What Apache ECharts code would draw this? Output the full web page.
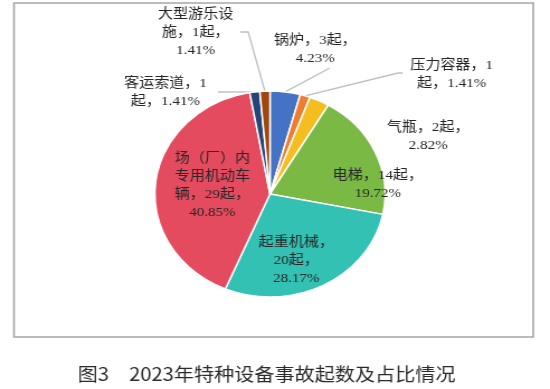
<!DOCTYPE html>
<html>
<head>
<meta charset="utf-8">
<script src="https://cdn.jsdelivr.net/npm/echarts@6/dist/echarts.min.js"></script>
<style>
html,body{margin:0;padding:0;background:#fff;overflow:hidden;}
#main{width:492px;height:389px;transform:scaleX(1.1179);transform-origin:0 0;}
</style>
</head>
<body>
<div id="main"></div>
<script>
const categories = ['锅炉', '压力容器', '气瓶', '电梯', '起重机械', '场（厂）内专用机动车辆', '客运索道', '大型游乐设施'];
const counts = [3, 1, 2, 14, 20, 29, 1, 1];
const percents = ['4.23%', '1.41%', '2.82%', '19.72%', '28.17%', '40.85%', '1.41%', '1.41%'];
const labelTemplates = [
  '{n}，{c}起，\n{p}',
  '{n}，{c}\n起，{p}',
  '{n}，{c}起，\n{p}',
  '{n}，{c}起，\n{p}',
  '{n}，\n{c}起，\n{p}',
  '场（厂）内\n专用机动车\n辆，{c}起，\n{p}',
  '{n}，{c}\n起，{p}',
  '大型游乐设\n施，{c}起，\n{p}'
];
const captionText = '图3　2023年特种设备事故起数及占比情况';

const colors = ['#4472C4', '#ED7D31', '#F5BD1F', '#7AB944', '#33C1B4', '#E54B5F', '#264478', '#9E480E'];
// label anchor positions (unstretched chart coordinates) and leader-line bends
const labelPos = [
  [282, 49], [404, 74], [383, 136], [338, 184], [265, 260], [190, 185], [148, 92], [175, 32]
];
const lineBends = [
  [[295, 68], [295, 68]],
  [[356, 73], [360, 73]],
  null, null, null, null,
  [[195, 92], [195, 92]],
  [[222, 32], [215, 32]]
];

const chart = echarts.init(document.getElementById('main'), null, {renderer: 'canvas'});
const data = categories.map((n, i) => ({
  name: n,
  value: counts[i],
  itemStyle: {color: colors[i]},
  labelLine: {show: !!lineBends[i]}
}));

chart.setOption({
  animation: false,
  backgroundColor: '#fff',
  graphic: [{
    type: 'rect',
    shape: {x: 12.5, y: 3, width: 464.5, height: 334},
    style: {fill: 'none', stroke: '#a6a6a6', lineWidth: 1.6},
    silent: true
  }],
  title: {
    text: captionText,
    left: 233.5,
    top: 360,
    textAlign: 'center',
    textStyle: {fontFamily: 'Noto Sans CJK SC', fontSize: 18, fontWeight: 'normal', color: '#2b2b2b'}
  },
  series: [{
    type: 'pie',
    center: [241.5, 194],
    radius: 103,
    startAngle: 90,
    clockwise: true,
    avoidLabelOverlap: false,
    data: data,
    itemStyle: {borderColor: '#fff', borderWidth: 1.5},
    label: {
      show: true,
      position: 'outside',
      fontFamily: '"Liberation Serif", "Noto Sans CJK SC"',
      fontSize: 13.5,
      lineHeight: 18,
      color: '#262626',
      formatter: p => labelTemplates[p.dataIndex]
        .replace('{n}', categories[p.dataIndex])
        .replace('{c}', counts[p.dataIndex])
        .replace('{p}', percents[p.dataIndex])
    },
    labelLine: {show: true, lineStyle: {color: '#bfbfbf', width: 1.3}},
    emphasis: {disabled: true}
  }]
});

chart.setOption({
  series: [{
    labelLayout: function (params) {
      const i = params.dataIndex;
      const res = {x: labelPos[i][0], y: labelPos[i][1], align: 'center', verticalAlign: 'middle'};
      if (lineBends[i] && params.labelLinePoints) {
        const pts = params.labelLinePoints;
        res.labelLinePoints = [pts[0], lineBends[i][0], lineBends[i][1]];
      }
      return res;
    }
  }]
});
</script>
</body>
</html>
